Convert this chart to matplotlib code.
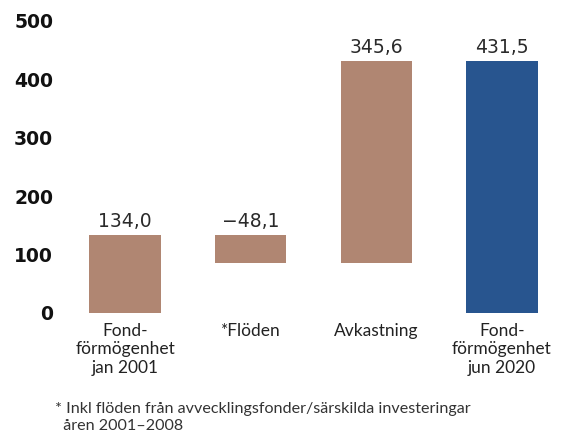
import matplotlib
matplotlib.use("Agg")
import matplotlib.pyplot as plt
import numpy as np

categories = ["Fond-\nförmögenhet\njan 2001", "*Flöden", "Avkastning", "Fond-\nförmögenhet\njun 2020"]
start_value = 134.0
changes = [-48.1, 345.6]
end_value = 431.5
value_labels = ["134,0", "\u221248,1", "345,6", "431,5"]
yticks = [0, 100, 200, 300, 400, 500]
footnote = "* Inkl flöden från avvecklingsfonder/särskilda investeringar\n  åren 2001\u20132008"

brown = "#B08672"
blue = "#28558F"

plt.rcParams['font.family'] = ['Lato', 'DejaVu Sans']

fig = plt.figure(figsize=(5.63, 4.37), dpi=100)
ax = fig.add_axes([0.0993, 0.2838, 0.8593, 0.6682])

# waterfall geometry from data
bottoms = [0]
heights = [start_value]
level = start_value
for c in changes:
    if c < 0:
        bottoms.append(level + c)
        heights.append(-c)
    else:
        bottoms.append(level)
        heights.append(c)
    level += c
bottoms.append(0)
heights.append(end_value)
tops = [b + h for b, h in zip(bottoms, heights)]
colors = [brown, brown, brown, blue]

x = np.arange(len(categories))
ax.bar(x, heights, bottom=bottoms, width=0.57, color=colors, linewidth=0)
label_y = [start_value, start_value, tops[2], end_value]
for xi, yi, t in zip(x, label_y, value_labels):
    ax.text(xi, yi + 14, t, ha='center', va='baseline', fontsize=13.5,
            color='#2a2a2a', family=['DejaVu Sans'])

ax.set_xlim(-0.55, 3.3)
ax.set_ylim(0, 500)
ax.set_yticks(yticks)
ax.set_yticklabels([str(v) for v in yticks], fontsize=13.5, fontweight='bold',
                   color='#111111', family=['DejaVu Sans'])
ax.set_xticks(x)
ax.set_xticklabels(categories, fontsize=12.5, color='#222222', linespacing=1.2, va='top')
ax.tick_params(axis='both', length=0)
ax.tick_params(axis='y', pad=2)
ax.tick_params(axis='x', pad=7)
for s in ax.spines.values():
    s.set_visible(False)

fig.text(0.098, 0.044, footnote, fontsize=11.6, color='#333333', ha='left', va='center', linespacing=1.25)

fig.savefig("out.png", dpi=100)
